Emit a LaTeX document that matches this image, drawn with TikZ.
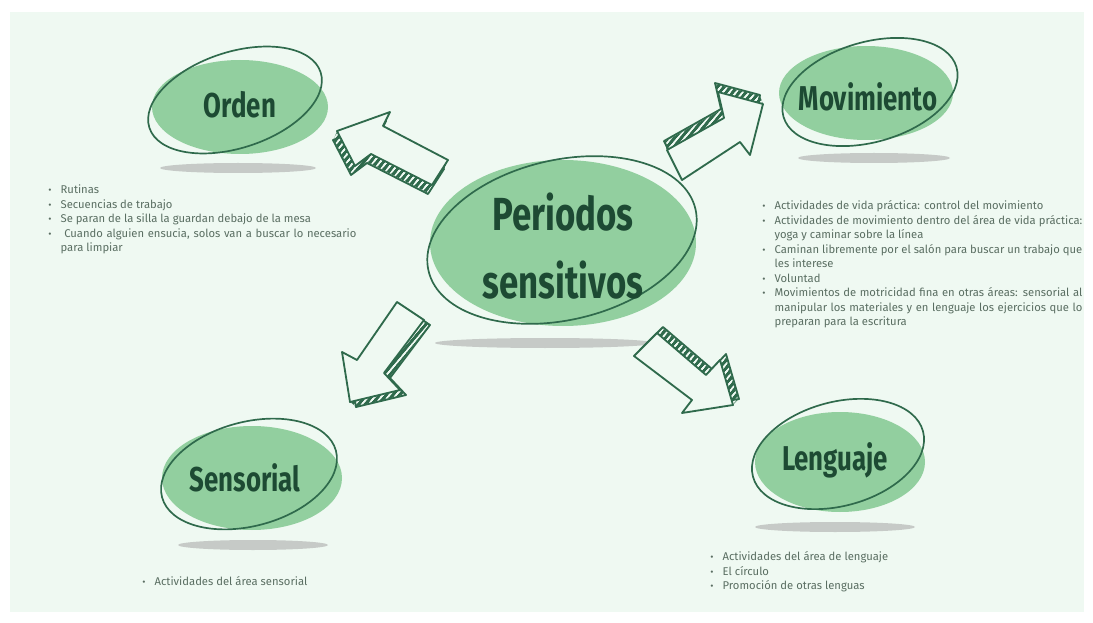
\documentclass[tikz,border=0pt]{standalone}
\usepackage{fontspec}
\setmainfont{Fira Sans}
\newfontfamily\titlefont{Fira Sans}[FakeStretch=0.75]
\usepackage{xcolor}
\usetikzlibrary{patterns.meta}
\definecolor{mint}{HTML}{EFF9F2}
\definecolor{blobgreen}{HTML}{92CF9F}
\definecolor{ringgreen}{HTML}{2F6A4C}
\definecolor{titlegreen}{HTML}{1D4A33}
\definecolor{bodygray}{HTML}{5A6E62}
\definecolor{shadowgray}{HTML}{C6CAC7}
\newcommand\itm{\par\noindent\hangindent=1.1em\hangafter=1\makebox[1.1em][l]{\scriptsize\textbullet}}
\newcommand\sketcharrow[3]{%
  \foreach \s in {0,0.1,...,1}{\fill[ringgreen,shift={({\s*(#2)},{\s*(#3)})},#1];}
  \foreach \s in {0,0.1,...,1}{\fill[hatch,shift={({\s*(#2)},{\s*(#3)})},#1];}
  \draw[arrowline,shift={(#2,#3)},#1];
  \draw[arrowline,fill=mint,#1];
}
\tikzset{
  blob/.style={fill=blobgreen},
  ring/.style={draw=ringgreen,line width=1.2pt},
  floorshadow/.style={fill=shadowgray},
  title/.style={font=\titlefont\bfseries\fontsize{24.5}{27}\selectfont,text=titlegreen,inner sep=0pt},
  bigtitle/.style={font=\titlefont\bfseries\fontsize{33}{48}\selectfont,text=titlegreen,align=center,inner sep=0pt},
  bullets/.style={font=\fontsize{8}{10.3}\selectfont,text=bodygray,align=justify,inner sep=0pt,anchor=north west},
  hatch/.style={pattern={Lines[angle=50,distance=3.6pt,line width=0.9pt]},pattern color=mint},
  arrowline/.style={draw=ringgreen,line width=1.3pt,line join=round},
  ordenarrow/.style={insert path={(337,131) -- (390,112) -- (383,126) -- (448,160) -- (432,185) -- (371,154) -- (355,166) -- cycle}},
  movarrow/.style={insert path={(763,104) -- (750,155) -- (740,142) -- (682,180) -- (667,150) -- (724,118) -- (718,92) -- cycle}},
  sensarrow/.style={insert path={(350,402) -- (342,352) -- (357,360) -- (397,302) -- (424,320) -- (384,373) -- (400,390) -- cycle}},
  lengarrow/.style={insert path={(733,405) -- (682,413) -- (692,400) -- (634,356) -- (657,333) -- (706,375) -- (720,360) -- cycle}}
}

\begin{document}
\begin{tikzpicture}[x=0.025cm,y=-0.025cm]
  \useasboundingbox[fill=white] (0,0) rectangle (1093,623);
  \fill[mint] (10,12) rectangle (1084,612);

  % shadows
  \fill[floorshadow] (238,168) ellipse [x radius=78, y radius=5];
  \fill[floorshadow] (874,158) ellipse [x radius=76, y radius=5];
  \fill[floorshadow] (545,343) ellipse [x radius=110, y radius=5];
  \fill[floorshadow] (253,545) ellipse [x radius=75, y radius=5];
  \fill[floorshadow] (835,527) ellipse [x radius=80, y radius=5];

  % green blobs
  \fill[blob] (240,107) ellipse [x radius=88, y radius=47];
  \fill[blob] (866,93) ellipse [x radius=87, y radius=47];
  \fill[blob] (563,243) ellipse [x radius=133, y radius=83];
  \fill[blob] (252,478) ellipse [x radius=90, y radius=52];
  \fill[blob] (840,462) ellipse [x radius=85, y radius=50];

  % hand drawn rings
  \draw[ring,rotate around={18:(235,100)}] (235,100) ellipse [x radius=90, y radius=48];
  \draw[ring,rotate around={16:(870,92)}] (870,92) ellipse [x radius=90, y radius=50];
  \draw[ring,rotate around={13:(562,240)}] (562,240) ellipse [x radius=137, y radius=80];
  \draw[ring,rotate around={15:(249,474)}] (249,474) ellipse [x radius=90, y radius=52];
  \draw[ring,rotate around={15:(838,454)}] (838,454) ellipse [x radius=88, y radius=52];

  % titles
  \node[title] (orden) at (240,105) {Orden};
  \node[title] (movimiento) at (868,97) {Movimiento};
  \node[bigtitle] (centro) at (563,246) {Periodos\\sensitivos};
  \node[title] (sensorial) at (245,478) {Sensorial};
  \node[title] (lenguaje) at (835,460) {Lenguaje};

  % arrows
  \sketcharrow{ordenarrow}{-4}{9}
  \sketcharrow{movarrow}{-3}{-9}
  \sketcharrow{sensarrow}{6}{5}
  \sketcharrow{lengarrow}{6}{-6}

  % lists
  \node[bullets,text width=7.7cm] (ordenlist) at (48,179) {%
    \itm Rutinas
    \itm Secuencias de trabajo
    \itm Se paran de la silla la guardan debajo de la mesa
    \itm \ Cuando alguien ensucia, solos van a buscar lo necesario para limpiar\par};
  \node[bullets,text width=8cm] (movlist) at (762,195) {%
    \itm Actividades de vida práctica: control del movimiento
    \itm Actividades de movimiento dentro del área de vida práctica: yoga y caminar sobre la línea
    \itm Caminan libremente por el salón para buscar un trabajo que les interese
    \itm Voluntad
    \itm Movimientos de motricidad fina en otras áreas: sensorial al manipular los materiales y en lenguaje los ejercicios que lo preparan para la escritura\par};
  \node[bullets,text width=5cm] (senslist) at (142,571) {%
    \itm Actividades del área sensorial\par};
  \node[bullets,text width=5cm] (lenglist) at (710,546) {%
    \itm Actividades del área de lenguaje
    \itm El círculo
    \itm Promoción de otras lenguas\par};
\end{tikzpicture}
\end{document}
